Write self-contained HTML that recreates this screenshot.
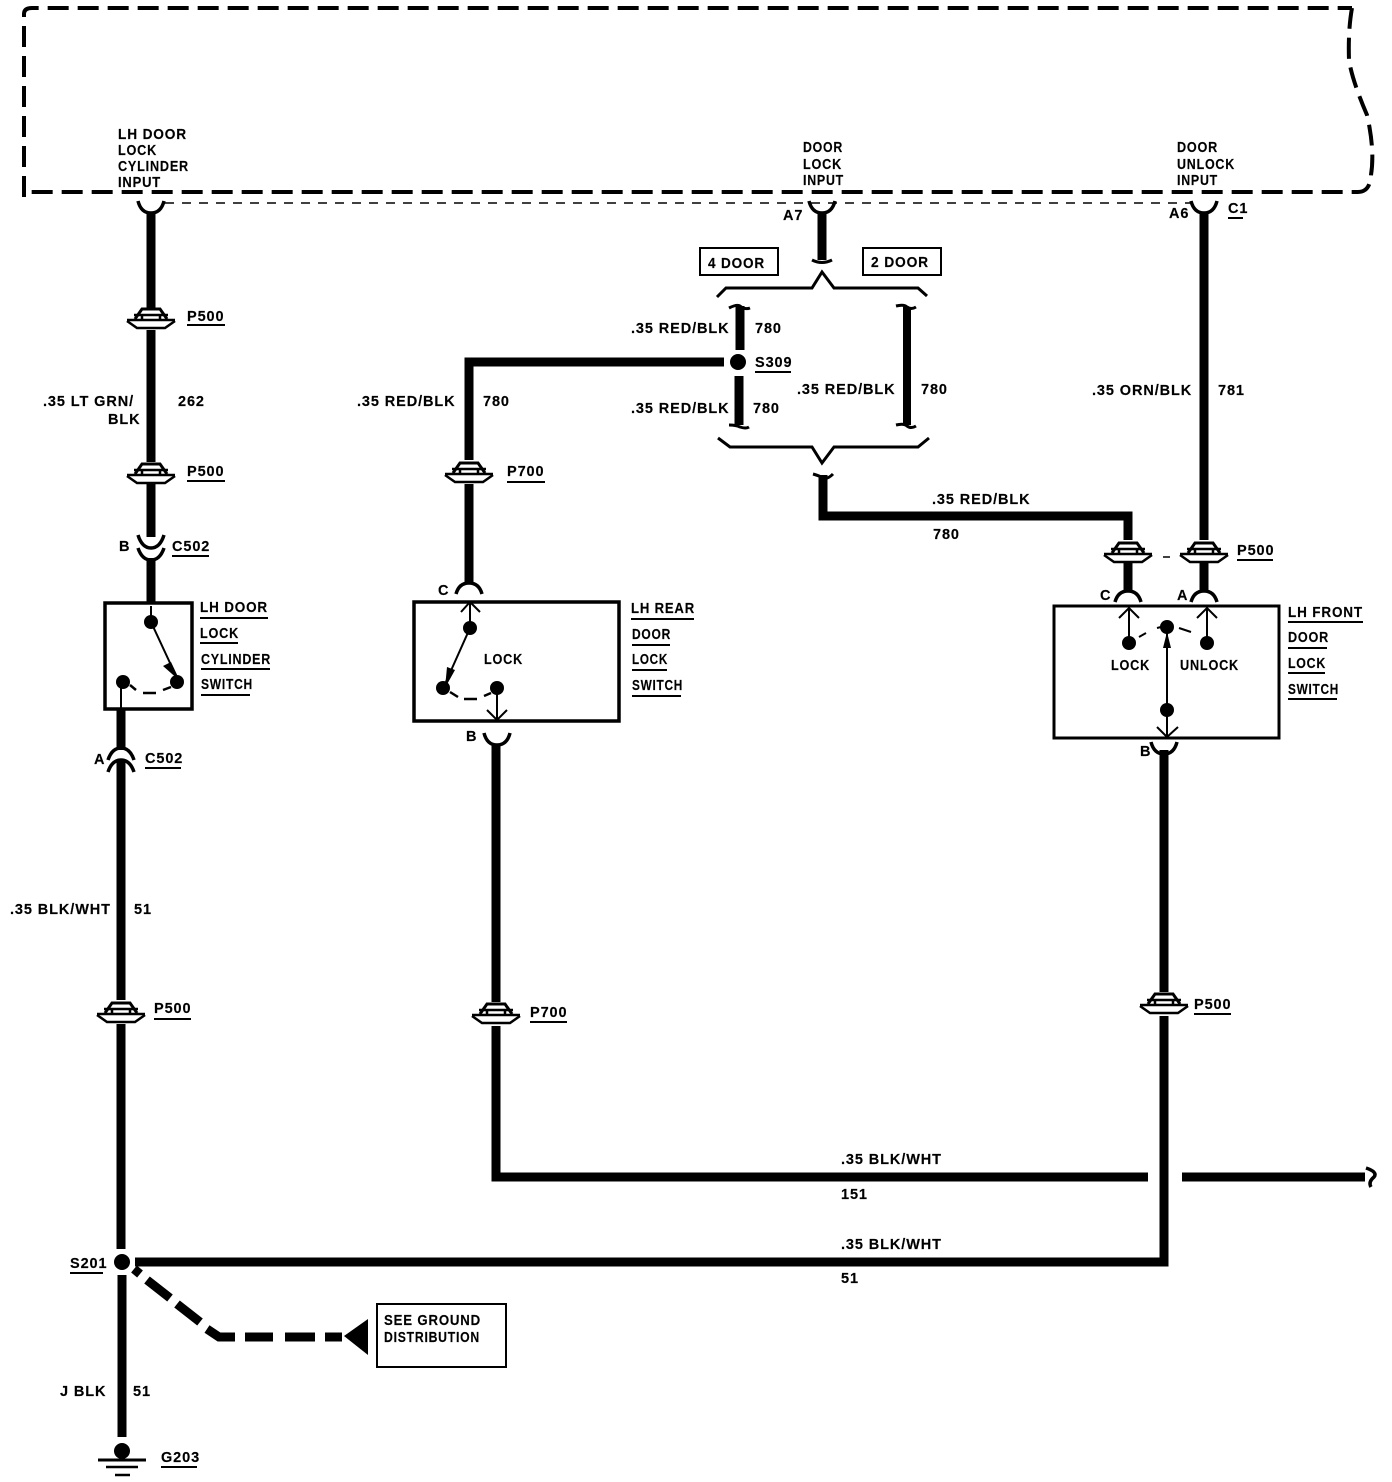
<!DOCTYPE html>
<html><head><meta charset="utf-8"><style>
html,body{margin:0;padding:0;background:#fff}
svg{display:block}
text{font-family:"Liberation Sans",sans-serif;font-size:14.5px;font-weight:bold;letter-spacing:.9px;fill:#000;stroke:#000;stroke-width:.15}
.w{fill:none;stroke:#000;stroke-width:9;stroke-linejoin:miter}
.n{fill:none;stroke:#000;stroke-width:3}
.t{fill:none;stroke:#000;stroke-width:2}
.u{stroke:#000;stroke-width:2}
.b{fill:none;stroke:#000;stroke-width:4}
</style></head><body>
<svg width="1392" height="1482" viewBox="0 0 1392 1482" xmlns="http://www.w3.org/2000/svg">
<defs>
<g id="inl">
<rect x="-5" y="-2" width="10" height="5" fill="#fff"/>
<path d="M-16,2 L-9,-8 H9 L16,2" fill="none" stroke="#000" stroke-width="3"/>
<path d="M-24,3 H24 M-17,-2 H17 M-9,-2 V3 M9,-2 V3" fill="none" stroke="#000" stroke-width="2.5"/>
<path d="M-24,4 L-14,11 H14 L24,4" fill="none" stroke="#000" stroke-width="2.5"/>
</g>
<path id="up" d="M-13,11 Q-10,0 0,0 Q10,0 13,11" fill="none" stroke="#000" stroke-width="3.5"/>
<path id="dn" d="M-13,-3 Q-10,9 0,9 Q10,9 13,-3" fill="none" stroke="#000" stroke-width="3.5"/>
</defs>

<!-- Module dashed outline -->
<path class="b" stroke-dasharray="21 9" d="M24,197 V14 Q24,8 32,8 H1352"/>
<path class="b" stroke-dasharray="21 9" d="M1352,8 Q1348,30 1349,60 Q1352,80 1367,115 Q1375,150 1371,175 Q1370,192 1358,192 H24"/>
<path d="M165,203 H1190" fill="none" stroke="#000" stroke-width="1.5" stroke-dasharray="9 8"/>

<text x="118" y="139" textLength="69" lengthAdjust="spacingAndGlyphs">LH DOOR</text>
<text x="118" y="155" textLength="39" lengthAdjust="spacingAndGlyphs">LOCK</text>
<text x="118" y="171" textLength="71" lengthAdjust="spacingAndGlyphs">CYLINDER</text>
<text x="118" y="187" textLength="43" lengthAdjust="spacingAndGlyphs">INPUT</text>
<text x="803" y="152" textLength="40" lengthAdjust="spacingAndGlyphs">DOOR</text>
<text x="803" y="169" textLength="39" lengthAdjust="spacingAndGlyphs">LOCK</text>
<text x="803" y="185" textLength="41" lengthAdjust="spacingAndGlyphs">INPUT</text>
<text x="1177" y="152" textLength="41" lengthAdjust="spacingAndGlyphs">DOOR</text>
<text x="1177" y="169" textLength="58" lengthAdjust="spacingAndGlyphs">UNLOCK</text>
<text x="1177" y="185" textLength="41" lengthAdjust="spacingAndGlyphs">INPUT</text>
<text x="783" y="220">A7</text>
<text x="1169" y="218">A6</text>
<text x="1228" y="213">C1</text>
<path class="u" d="M1228,218 H1243"/>

<!-- Left wire -->
<use href="#dn" x="151" y="204"/>
<path class="w" d="M151,212 V308 M151,330 V462 M151,484 V537"/>
<use href="#inl" x="151" y="317"/>
<use href="#inl" x="151" y="472"/>
<path d="M138,535 Q142,548 151,548 Q160,548 164,535" fill="none" stroke="#000" stroke-width="3.5"/>
<path d="M138,548 Q142,560 151,560 Q160,560 164,548" fill="none" stroke="#000" stroke-width="3.5"/>
<path class="w" d="M151,558 V603"/>
<text x="187" y="321">P500</text><path class="u" d="M187,325 H225"/>
<text x="187" y="476">P500</text><path class="u" d="M187,481 H225"/>
<text x="43" y="406">.35 LT GRN/</text>
<text x="108" y="424">BLK</text>
<text x="178" y="406">262</text>
<text x="119" y="551">B</text>
<text x="172" y="551">C502</text><path class="u" d="M172,556 H209"/>

<!-- LH door lock cylinder switch -->
<rect x="105" y="603" width="87" height="106" fill="none" stroke="#000" stroke-width="3.5"/>
<path class="t" d="M151,606 V622 L177,678"/>
<path d="M180,681 L163,666 L171,662 Z" fill="#000"/>
<circle cx="151" cy="622" r="7"/><circle cx="177" cy="682" r="7"/><circle cx="123" cy="682" r="7"/>
<path class="t" d="M121,682 V709"/>
<path d="M130,685 L136,690 M143,693 H156 M163,690 L171,687" fill="none" stroke="#000" stroke-width="2.5"/>
<text x="200" y="612" textLength="68" lengthAdjust="spacingAndGlyphs">LH DOOR</text><path class="u" d="M200,618 H268"/>
<text x="200" y="638" textLength="39" lengthAdjust="spacingAndGlyphs">LOCK</text><path class="u" d="M200,643 H238"/>
<text x="201" y="664" textLength="70" lengthAdjust="spacingAndGlyphs">CYLINDER</text><path class="u" d="M201,669 H270"/>
<text x="201" y="689" textLength="52" lengthAdjust="spacingAndGlyphs">SWITCH</text><path class="u" d="M201,695 H250"/>

<!-- Left lower trunk -->
<path class="w" d="M121,709 V750"/>
<path d="M108,760 Q112,748 121,748 Q130,748 134,760" fill="none" stroke="#000" stroke-width="3.5"/>
<path d="M108,772 Q112,760 121,760 Q130,760 134,772" fill="none" stroke="#000" stroke-width="3.5"/>
<path class="w" d="M121,760 V1000 M121,1024 V1249"/>
<path class="w" d="M122,1275 V1437"/>
<use href="#inl" x="121" y="1011"/>
<text x="94" y="764">A</text>
<text x="145" y="763">C502</text><path class="u" d="M145,768 H181"/>
<text x="10" y="914">.35 BLK/WHT</text>
<text x="134" y="914">51</text>
<text x="154" y="1013">P500</text><path class="u" d="M154,1019 H191"/>

<!-- S201 -->
<circle cx="122" cy="1262" r="8"/>
<path class="w" d="M135,1262 H1164 V1016 M1164,992 V750"/>
<text x="70" y="1268">S201</text><path class="u" d="M70,1273 H103"/>
<path d="M134,1269 L140,1274 M147,1280 L170,1298 M177,1304 L200,1322 M207,1329 L219,1337 H235 M245,1337 H273 M285,1337 H315 M325,1337 H342" fill="none" stroke="#000" stroke-width="9"/>
<path d="M344,1336 L368,1319 V1355 Z" fill="#000"/>
<rect x="377" y="1304" width="129" height="63" fill="none" stroke="#000" stroke-width="2"/>
<text x="384" y="1325" textLength="97" lengthAdjust="spacingAndGlyphs">SEE GROUND</text>
<text x="384" y="1342" textLength="96" lengthAdjust="spacingAndGlyphs">DISTRIBUTION</text>
<text x="60" y="1396">J BLK</text>
<text x="133" y="1396">51</text>
<circle cx="122" cy="1451" r="8"/>
<path d="M98,1460 H146" stroke="#000" stroke-width="3"/>
<path d="M106,1467 H138" stroke="#000" stroke-width="2.5"/>
<path d="M115,1475 H130" stroke="#000" stroke-width="2.5"/>
<text x="161" y="1462">G203</text><path class="u" d="M161,1467 H197"/>

<!-- Center wire: LH rear -->
<path class="w" d="M724,362 H469 V460 M469,484 V582"/>
<use href="#inl" x="469" y="471"/>
<use href="#up" x="469" y="583"/>
<text x="357" y="406">.35 RED/BLK</text>
<text x="483" y="406">780</text>
<text x="507" y="476">P700</text><path class="u" d="M507,482 H545"/>
<text x="438" y="595">C</text>
<rect x="414" y="602" width="205" height="119" fill="none" stroke="#000" stroke-width="3.5"/>
<path class="t" d="M470,628 V602 M461,612 L470,602 L480,612"/>
<path class="t" d="M470,628 L445,684"/>
<path d="M445,688 L447,667 L455,670 Z" fill="#000"/>
<circle cx="470" cy="628" r="7"/><circle cx="443" cy="688" r="7"/><circle cx="497" cy="688" r="7"/>
<path d="M450,692 L458,697 M464,699 H477 M484,696 L491,693" fill="none" stroke="#000" stroke-width="2.5"/>
<path class="t" d="M497,688 V720 M487,710 L497,720 L507,710"/>
<text x="484" y="664" textLength="39" lengthAdjust="spacingAndGlyphs">LOCK</text>
<text x="631" y="613" textLength="64" lengthAdjust="spacingAndGlyphs">LH REAR</text><path class="u" d="M631,619 H694"/>
<text x="632" y="639" textLength="39" lengthAdjust="spacingAndGlyphs">DOOR</text><path class="u" d="M632,645 H670"/>
<text x="632" y="664" textLength="36" lengthAdjust="spacingAndGlyphs">LOCK</text><path class="u" d="M632,670 H667"/>
<text x="632" y="690" textLength="51" lengthAdjust="spacingAndGlyphs">SWITCH</text><path class="u" d="M632,696 H681"/>
<text x="466" y="741">B</text>
<use href="#dn" x="497" y="736"/>
<path class="w" d="M496,745 V1002 M496,1026 V1177 H1148 M1182,1177 H1365"/>
<use href="#inl" x="496" y="1012"/>
<text x="530" y="1017">P700</text><path class="u" d="M530,1022 H567"/>
<path d="M1366,1168 Q1378,1172 1374,1177 Q1368,1182 1371,1187" fill="none" stroke="#000" stroke-width="3.5"/>
<text x="841" y="1164">.35 BLK/WHT</text>
<text x="841" y="1199">151</text>
<text x="841" y="1249">.35 BLK/WHT</text>
<text x="841" y="1283">51</text>

<!-- Door lock input -->
<use href="#dn" x="822" y="204"/>
<path class="w" d="M822,212 V260"/>
<path d="M812,260 Q822,265 832,260" fill="none" stroke="#000" stroke-width="3"/>
<rect x="700" y="248" width="78" height="27" fill="none" stroke="#000" stroke-width="2"/>
<text x="708" y="268" textLength="57" lengthAdjust="spacingAndGlyphs">4 DOOR</text>
<rect x="863" y="248" width="78" height="27" fill="none" stroke="#000" stroke-width="2"/>
<text x="871" y="267" textLength="58" lengthAdjust="spacingAndGlyphs">2 DOOR</text>
<path class="n" d="M717,297 L726,288 H812 L822,272 L834,288 H918 L927,296"/>
<!-- 4 door stubs -->
<path d="M740,306 V350 M739,376 V425" fill="none" stroke="#000" stroke-width="9"/>
<path d="M729,308 Q737,304 740,306 Q745,310 750,308 M729,425 Q736,425 740,427 Q746,429 749,427" fill="none" stroke="#000" stroke-width="3"/>
<circle cx="738" cy="362" r="8"/>
<text x="631" y="333">.35 RED/BLK</text>
<text x="755" y="333">780</text>
<text x="755" y="367">S309</text><path class="u" d="M755,372 H791"/>
<text x="631" y="413">.35 RED/BLK</text>
<text x="753" y="413">780</text>
<!-- 2 door stub -->
<path d="M907,307 V425" fill="none" stroke="#000" stroke-width="8"/>
<path d="M896,306 Q904,304 907,307 Q911,310 916,307 M896,425 Q904,423 907,426 Q911,429 916,426" fill="none" stroke="#000" stroke-width="3"/>
<text x="797" y="394">.35 RED/BLK</text>
<text x="921" y="394">780</text>
<path class="n" d="M718,438 L730,447 H812 L822,463 L834,447 H918 L929,438"/>
<path d="M813,474 Q820,476 823,478 Q827,480 833,474" fill="none" stroke="#000" stroke-width="3"/>
<path class="w" d="M823,475 V516 H1128 V540 M1128,563 V592"/>
<text x="932" y="504">.35 RED/BLK</text>
<text x="933" y="539">780</text>
<use href="#inl" x="1128" y="551"/>
<use href="#inl" x="1204" y="551"/>
<path d="M1163,557 H1170" stroke="#000" stroke-width="1.5"/>

<!-- Door unlock -->
<use href="#dn" x="1204" y="204"/>
<path class="w" d="M1204,212 V540 M1204,563 V592"/>
<text x="1092" y="395">.35 ORN/BLK</text>
<text x="1218" y="395">781</text>
<text x="1237" y="555">P500</text><path class="u" d="M1237,560 H1273"/>
<use href="#up" x="1128" y="591"/>
<use href="#up" x="1204" y="591"/>
<text x="1100" y="600">C</text>
<text x="1177" y="600">A</text>

<!-- LH front switch -->
<rect x="1054" y="606" width="225" height="132" fill="none" stroke="#000" stroke-width="3"/>
<path class="t" d="M1129,643 V608 M1119,618 L1129,608 L1139,618"/>
<path class="t" d="M1207,643 V608 M1197,618 L1207,608 L1217,618"/>
<circle cx="1129" cy="643" r="7"/><circle cx="1207" cy="643" r="7"/>
<circle cx="1167" cy="627" r="7"/><circle cx="1167" cy="710" r="7"/>
<path d="M1139,637 L1146,633 M1157,628 L1161,627 M1179,628 L1191,632" fill="none" stroke="#000" stroke-width="2"/>
<path class="t" d="M1167,630 V737 M1157,727 L1167,737 L1178,727"/>
<path d="M1167,632 L1163,648 H1171 Z" fill="#000"/>
<text x="1111" y="670" textLength="39" lengthAdjust="spacingAndGlyphs">LOCK</text>
<text x="1180" y="670" textLength="59" lengthAdjust="spacingAndGlyphs">UNLOCK</text>
<text x="1288" y="617" textLength="75" lengthAdjust="spacingAndGlyphs">LH FRONT</text><path class="u" d="M1288,622 H1363"/>
<text x="1288" y="642" textLength="41" lengthAdjust="spacingAndGlyphs">DOOR</text><path class="u" d="M1288,648 H1327"/>
<text x="1288" y="668" textLength="38" lengthAdjust="spacingAndGlyphs">LOCK</text><path class="u" d="M1288,673 H1325"/>
<text x="1288" y="694" textLength="51" lengthAdjust="spacingAndGlyphs">SWITCH</text><path class="u" d="M1288,699 H1337"/>
<text x="1140" y="756">B</text>
<use href="#dn" x="1164" y="745"/>
<use href="#inl" x="1164" y="1002"/>
<text x="1194" y="1009">P500</text><path class="u" d="M1194,1014 H1231"/>
</svg>
</body></html>
